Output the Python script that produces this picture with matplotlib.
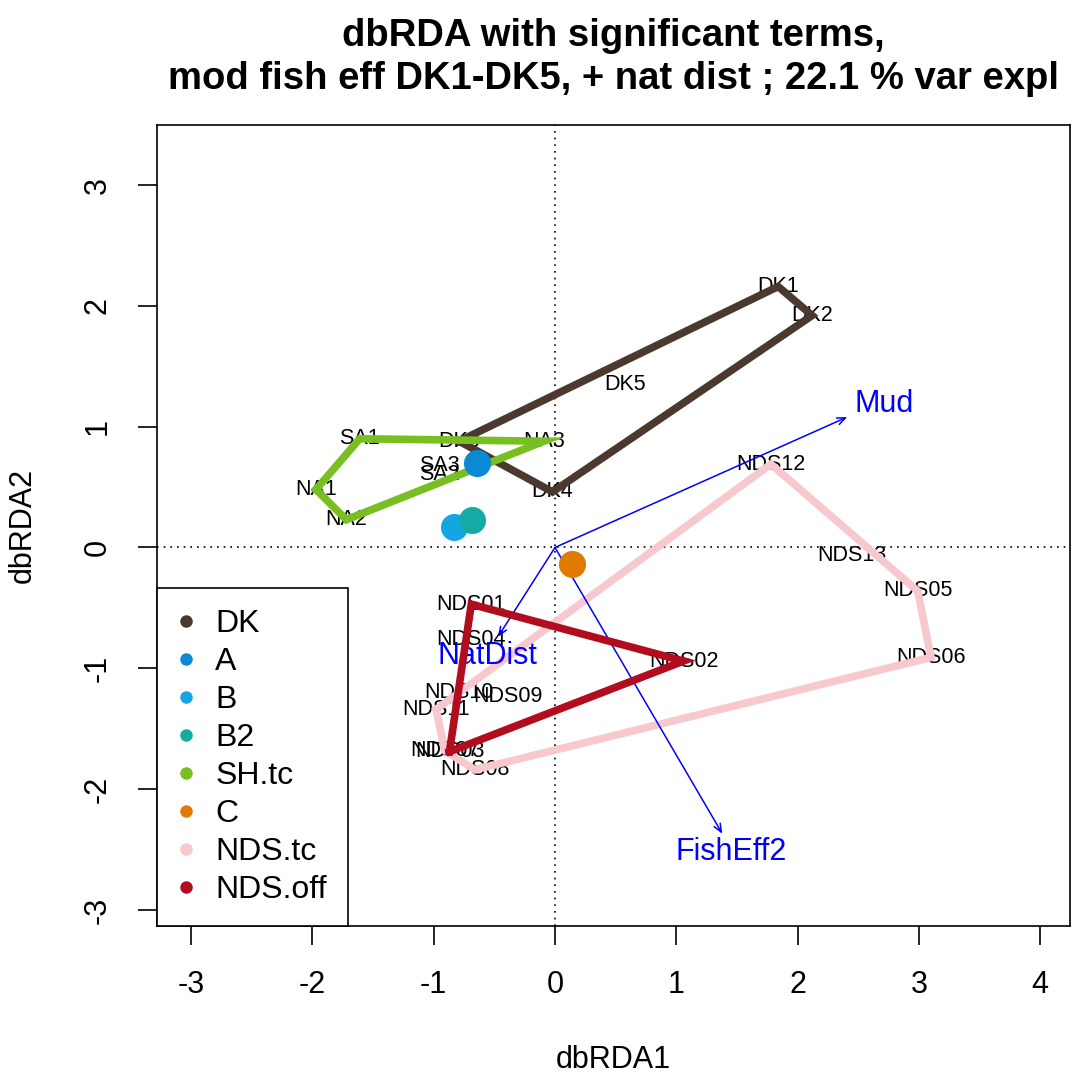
import numpy as np
import matplotlib.pyplot as plt
from matplotlib.lines import Line2D

plt.rcParams["font.family"] = ["Liberation Sans", "DejaVu Sans"]
plt.rcParams["axes.unicode_minus"] = False

# site scores (dbRDA1, dbRDA2)
dk_names = ["DK1", "DK2", "DK3", "DK4", "DK5"]
dk_x = [1.84, 2.12, -0.79, -0.02, 0.58]
dk_y = [2.16, 1.92, 0.88, 0.46, 1.35]

sh_names = ["SA1", "SA2", "SA3", "NA1", "NA2", "NA3"]
sh_x = [-1.61, -0.95, -0.95, -1.97, -1.72, -0.09]
sh_y = [0.90, 0.60, 0.68, 0.48, 0.23, 0.88]

ndstc_names = ["NDS05", "NDS06", "NDS07", "NDS08", "NDS10", "NDS11", "NDS12", "NDS13"]
ndstc_x = [2.99, 3.10, -0.91, -0.66, -0.79, -0.98, 1.78, 2.45]
ndstc_y = [-0.36, -0.91, -1.68, -1.84, -1.20, -1.34, 0.69, -0.07]

ndsoff_names = ["NDS01", "NDS02", "NDS03", "NDS04", "NDS09"]
ndsoff_x = [-0.69, 1.06, -0.87, -0.69, -0.39]
ndsoff_y = [-0.47, -0.94, -1.69, -0.76, -1.23]

# single-site groups, drawn as points
single_groups = ["A", "B", "B2", "C"]
single_x = [-0.64, -0.83, -0.68, 0.14]
single_y = [0.70, 0.17, 0.23, -0.14]

# biplot arrows for the significant terms
env_names = ["Mud", "NatDist", "FishEff2"]
env_x = [2.41, -0.47, 1.38]
env_y = [1.08, -0.74, -2.37]
env_lab_x = [2.71, -0.56, 1.45]
env_lab_y = [1.19, -0.90, -2.52]

legend_groups = ["DK", "A", "B", "B2", "SH.tc", "C", "NDS.tc", "NDS.off"]
legend_colors = ["#4b382f", "#0a8ad3", "#14a6e4", "#14aaa6", "#78c021",
                 "#e07b00", "#f7c9cf", "#b20d1f"]
col = dict(zip(legend_groups, legend_colors))


def convex_hull(xs, ys):
    pts = sorted(zip(xs, ys))

    def cross(o, a, b):
        return (a[0] - o[0]) * (b[1] - o[1]) - (a[1] - o[1]) * (b[0] - o[0])

    lower, upper = [], []
    for p in pts:
        while len(lower) >= 2 and cross(lower[-2], lower[-1], p) <= 0:
            lower.pop()
        lower.append(p)
    for p in reversed(pts):
        while len(upper) >= 2 and cross(upper[-2], upper[-1], p) <= 0:
            upper.pop()
        upper.append(p)
    hull = lower[:-1] + upper[:-1]
    hull.append(hull[0])
    return zip(*hull)


fig = plt.figure(figsize=(10.72, 10.77), dpi=100)
ax = fig.add_axes([157 / 1072, 1 - 926 / 1077, (1070 - 157) / 1072, (926 - 125) / 1077])
ax.set_xlim(-3.281, 4.246)
ax.set_ylim(-3.133, 3.497)

ax.axhline(0, color="black", ls=(0, (1, 3)), lw=1.2, zorder=1)
ax.axvline(0, color="black", ls=(0, (1, 3)), lw=1.2, zorder=1)

# site labels
for names, xs, ys in [(dk_names, dk_x, dk_y), (sh_names, sh_x, sh_y),
                      (ndstc_names, ndstc_x, ndstc_y),
                      (ndsoff_names, ndsoff_x, ndsoff_y)]:
    for n, x, y in zip(names, xs, ys):
        ax.text(x, y, n, fontsize=15.5, ha="center", va="center", zorder=2)

# hulls
for g, xs, ys, z in [("DK", dk_x, dk_y, 4), ("SH.tc", sh_x, sh_y, 4),
                     ("NDS.tc", ndstc_x, ndstc_y, 2.5),
                     ("NDS.off", ndsoff_x, ndsoff_y, 4)]:
    hx, hy = convex_hull(xs, ys)
    ax.plot(hx, hy, color=col[g], lw=5.5, solid_joinstyle="miter", zorder=z)

# single points
for g, x, y in zip(single_groups, single_x, single_y):
    ax.plot(x, y, "o", ms=19.5, color=col[g], mec="none", zorder=5)

# arrows
for n, x, y, lx, ly in zip(env_names, env_x, env_y, env_lab_x, env_lab_y):
    ax.annotate("", xy=(x, y), xytext=(0, 0),
                arrowprops=dict(arrowstyle="->,head_length=0.6,head_width=0.25",
                                color="blue", lw=1.1, shrinkA=0, shrinkB=0),
                zorder=3)
    ax.text(lx, ly, n, color="blue", fontsize=22, ha="center", va="center", zorder=3)

handles = [Line2D([], [], ls="none", marker="o", ms=9, color=c, mec="none")
           for c in legend_colors]
leg = ax.legend(handles, legend_groups, loc="lower left", bbox_to_anchor=(0, 0),
                borderaxespad=0, fontsize=23, frameon=True, fancybox=False,
                edgecolor="black", framealpha=1, labelspacing=0.25,
                handletextpad=0.66, handlelength=0.5, borderpad=0.66)
leg.get_frame().set_linewidth(1.2)
leg.set_zorder(10)

ax.set_xticks(np.arange(-3, 5))
ax.set_yticks(np.arange(-3, 4))
ax.tick_params(direction="out", length=14, width=1.2, labelsize=22, pad=18)
for lab in ax.get_yticklabels():
    lab.set_rotation(90)
    lab.set_va("center")
for s in ax.spines.values():
    s.set_linewidth(1.2)

ax.set_xlabel("dbRDA1", fontsize=22, labelpad=32)
ax.set_ylabel("dbRDA2", fontsize=22, labelpad=32)
ax.set_title("dbRDA with significant terms,\nmod fish eff DK1-DK5, + nat dist ; 22.1 % var expl",
             fontsize=27.5, fontweight="bold", pad=26, linespacing=1.25)

fig.savefig("out.png", dpi=100)
